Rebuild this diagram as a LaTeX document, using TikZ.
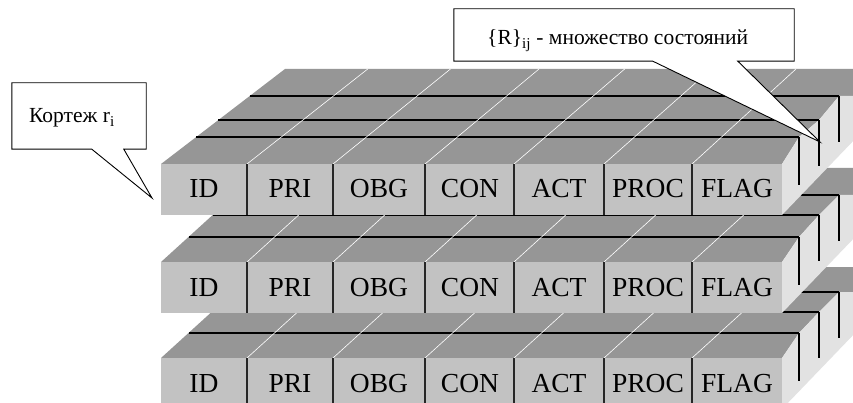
\documentclass[tikz,border=0pt]{standalone}
\usepackage{fontspec}
\setmainfont{Liberation Serif}
\usetikzlibrary{calc}

\definecolor{topgray}{RGB}{150,150,150}
\definecolor{frontgray}{RGB}{194,194,194}
\definecolor{sidegray}{RGB}{226,226,226}

\tikzset{
  topface/.style={fill=topgray},
  sideface/.style={fill=sidegray},
  frontface/.style={fill=frontgray},
  rowline/.style={black, line width=1.6pt},
  edgeline/.style={black, line width=1.2pt},
  cellline/.style={black!85, line width=1.1pt},
  sepline/.style={white, line width=0.6pt},
  celltext/.style={anchor=base, inner sep=0pt, font=\fontsize{27.5}{28}\selectfont},
  callbox/.style={inner sep=0pt},
  callline/.style={draw=black, fill=white, line width=0.9pt, line join=miter},
  calltext/.style={anchor=base west, inner sep=0pt, font=\fontsize{21.5}{22}\selectfont}
}

% One slab of stacked record rows.
% #1 slab id, #2..#6 y of the front row edge, rows 2..4 and the back edge,
% #7 depth slope at the left edge, #8 change of that slope per unit of x.
\newcommand{\slab}[8]{%
  \pgfmathsetmacro\slXb{161+(#2-#3)*#7}%
  \pgfmathsetmacro\slXc{161+(#2-#4)*#7}%
  \pgfmathsetmacro\slXd{161+(#2-#5)*#7}%
  \pgfmathsetmacro\slXe{161+(#2-#6)*#7}%
  % top face
  \fill[topface] (161,#2) -- (\slXe,#6) -- (858,#6) -- (858,#5) -- (839,#5)
    -- (819,#4) -- (799,#3) -- (782,#2) -- cycle;
  % right side face
  \fill[sideface] (782,#2) -- (799,#3) -- (819,#4) -- (839,#5) -- (858,#5)
    -- (858,{#2-28}) -- (782,{#2+51}) -- cycle;
  % front face
  \fill[frontface] (161,#2) rectangle (782,{#2+51});
  % edges of the rows behind
  \draw[rowline] (\slXb,#3) -- (799,#3) (\slXc,#4) -- (819,#4) (\slXd,#5) -- (839,#5);
  \draw[edgeline] (799,#3) -- ++(0,48) (819,#4) -- ++(0,46) (839,#5) -- ++(0,46);
  % field borders running back over the top face
  \foreach \x in {247,333,425,514,604,692}{%
    \pgfmathsetmacro\slS{#7-#8*(\x-161)}%
    \draw[sepline] (\x,#2) -- ({\x+(#2-#6)*\slS},#6);
  }
  % field borders on the front face
  \foreach \x in {247,333,425,514,604,692}
    \draw[cellline] (\x,#2) -- ++(0,51);
  % field names
  \foreach \t/\cx [count=\i] in {ID/204,PRI/290,OBG/379,CON/470,ACT/559,PROC/648,FLAG/737}
    \node[celltext] (cell#1-\i) at (\cx,{#2+34}) {\t};
}

\begin{document}
\begin{tikzpicture}[x=1pt,y=-1pt]
  \useasboundingbox (0,0) rectangle (853,403);
  \fill[white] (0,0) rectangle (853,403);

  \slab{3}{358}{333}{312}{292}{267}{1.1}{0}
  \slab{2}{262}{237}{215}{195}{168}{1.1}{0}
  \slab{1}{164}{137}{120}{96}{69}{1.305}{0.0004}

  % callout: tuple
  \node[callbox, minimum width=134pt, minimum height=66pt] (tuple) at (79,116) {};
  \coordinate (tuple-tip) at (152,198);
  \filldraw[callline] (tuple.north west) -- (tuple.north east) -- (tuple.south east)
    -- ($(tuple.south west)+(112,0)$) -- (tuple-tip)
    -- ($(tuple.south west)+(80,0)$) -- (tuple.south west) -- cycle;
  \node[calltext] (tuple-label) at (29,123) {Кортеж r\textsubscript{i}};

  % callout: set of states
  \node[callbox, minimum width=340pt, minimum height=52pt] (states) at (624,35) {};
  \coordinate (states-tip) at (820,142);
  \filldraw[callline] (states.north west) -- (states.north east) -- (states.south east)
    -- ($(states.south west)+(284,0)$) -- (states-tip)
    -- ($(states.south west)+(199,0)$) -- (states.south west) -- cycle;
  \node[calltext] (states-label) at (487,45) {\{R\}\textsubscript{ij} - множество состояний};
\end{tikzpicture}
\end{document}
